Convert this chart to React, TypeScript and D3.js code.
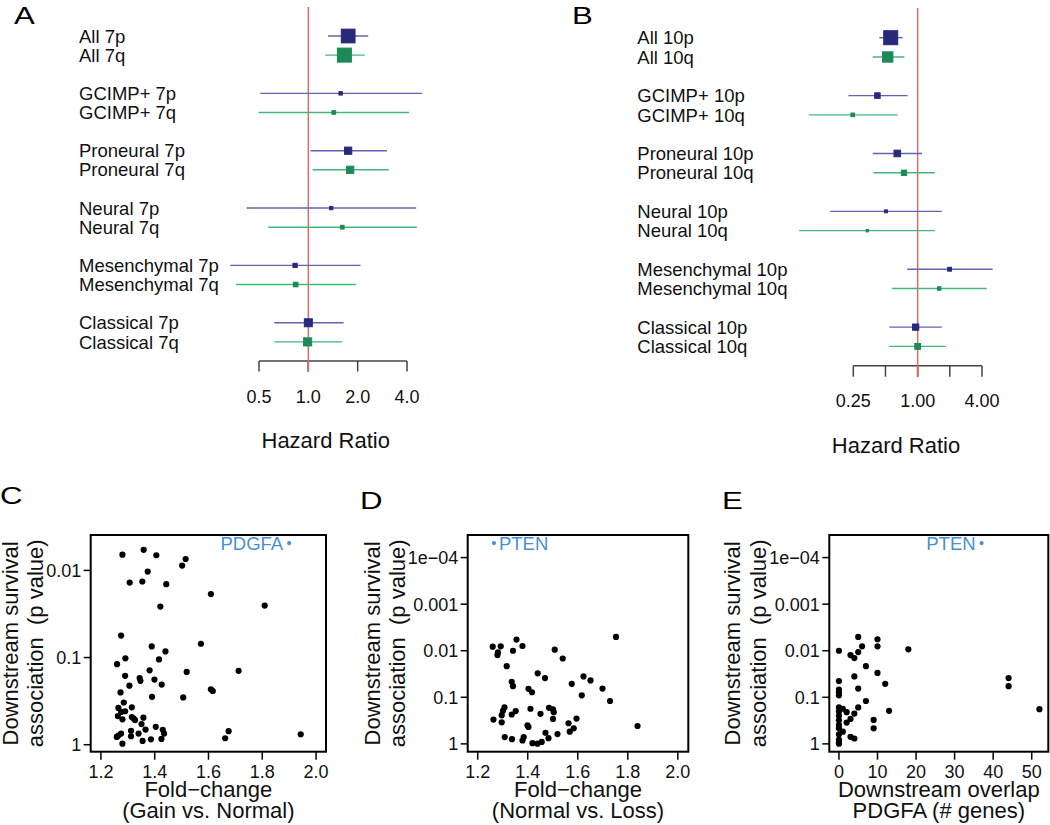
import React from "react";
import * as d3 from "d3";

// ---------- Panel A: forest plot, chromosome 7 ----------
const forestALabels = [
  "All 7p", "All 7q", "GCIMP+ 7p", "GCIMP+ 7q", "Proneural 7p", "Proneural 7q",
  "Neural 7p", "Neural 7q", "Mesenchymal 7p", "Mesenchymal 7q", "Classical 7p", "Classical 7q",
];
const forestAHR = [1.75, 1.66, 1.575, 1.43, 1.75, 1.8, 1.38, 1.61, 0.83, 0.837, 1.0, 0.99];
const forestALower = [1.32, 1.27, 0.509, 0.497, 1.03, 1.06, 0.42, 0.57, 0.334, 0.362, 0.62, 0.62];
const forestAUpper = [2.32, 2.21, 4.95, 4.12, 3.02, 3.09, 4.55, 4.59, 2.08, 1.95, 1.64, 1.61];
const forestATicks = [0.5, 1, 2, 4];
const forestATickLabels = ["0.5", "1.0", "2.0", "4.0"];

// ---------- Panel B: forest plot, chromosome 10 ----------
const forestBLabels = [
  "All 10p", "All 10q", "GCIMP+ 10p", "GCIMP+ 10q", "Proneural 10p", "Proneural 10q",
  "Neural 10p", "Neural 10q", "Mesenchymal 10p", "Mesenchymal 10q", "Classical 10p", "Classical 10q",
];
const forestBHR = [0.56, 0.525, 0.42, 0.247, 0.645, 0.745, 0.505, 0.338, 1.99, 1.59, 0.958, 1.0];
const forestBLower = [0.438, 0.38, 0.225, 0.096, 0.38, 0.385, 0.152, 0.078, 0.8, 0.575, 0.543, 0.543];
const forestBUpper = [0.724, 0.75, 0.806, 0.65, 1.1, 1.45, 1.68, 1.45, 5.03, 4.42, 1.68, 1.84];
const forestBTicks = [0.25, 0.5, 1, 2, 4];
const forestBTickLabels = ["0.25", "", "1.00", "", "4.00"];

// ---------- Panel C: fold-change (gain vs normal) vs p ----------
const scatterCFold = [
  1.28, 1.359, 1.406, 1.502, 1.515, 1.374, 1.307, 1.354, 1.443, 1.609, 1.421, 1.809,
  1.275, 1.389, 1.572, 1.44, 1.291, 1.26, 1.416, 1.381, 1.519, 1.712, 1.29, 1.344, 1.347,
  1.399, 1.306, 1.426, 1.609, 1.616, 1.273, 1.39, 1.506,
  1.285, 1.265, 1.315, 1.275, 1.29, 1.263, 1.28, 1.315, 1.322, 1.327, 1.358, 1.351, 1.366,
  1.265, 1.275, 1.259, 1.312, 1.312, 1.34, 1.355, 1.386, 1.404, 1.43, 1.435, 1.425, 1.28,
  1.662, 1.675, 1.943,
];
const scatterCP = [
  0.0066, 0.0058, 0.0067, 0.0088, 0.0074, 0.0103, 0.0138, 0.0134, 0.0144, 0.0187, 0.026, 0.0253,
  0.056, 0.0745, 0.0694, 0.0851, 0.102, 0.119, 0.105, 0.14, 0.146, 0.142, 0.162, 0.172, 0.185,
  0.179, 0.21, 0.204, 0.231, 0.242, 0.251, 0.282, 0.287,
  0.328, 0.378, 0.372, 0.421, 0.413, 0.469, 0.512, 0.481, 0.503, 0.521, 0.49, 0.58, 0.67,
  0.785, 0.745, 0.815, 0.693, 0.8, 0.745, 0.906, 0.867, 0.623, 0.675, 0.745, 0.859, 0.973,
  0.843, 0.7, 0.759,
];
const highlightCFold = 1.9;
const highlightCP = 0.00485;
const highlightCLabel = "PDGFA";

// ---------- Panel D: fold-change (normal vs loss) vs p ----------
const scatterDFold = [
  1.26, 1.292, 1.281, 1.279, 1.355, 1.379, 1.341, 1.508, 1.54, 1.753, 1.316, 1.44, 1.469,
  1.336, 1.341, 1.576, 1.623, 1.651, 1.699, 1.616, 1.729, 1.403, 1.417, 1.307, 1.301, 1.296,
  1.352, 1.336, 1.263, 1.296, 1.411, 1.451, 1.485, 1.501, 1.504, 1.501, 1.399, 1.403, 1.563,
  1.595, 1.584, 1.568, 1.839, 1.308, 1.337, 1.379, 1.384, 1.419, 1.439, 1.456, 1.471, 1.483, 1.519,
];
const scatterDP = [
  0.00818, 0.00805, 0.0109, 0.0124, 0.00577, 0.00792, 0.01, 0.0095, 0.0147, 0.00505, 0.0215, 0.0306, 0.0387,
  0.0465, 0.0577, 0.0513, 0.0356, 0.0435, 0.0649, 0.0906, 0.12, 0.0659, 0.0779, 0.165, 0.195, 0.242,
  0.198, 0.234, 0.301, 0.344, 0.176, 0.226, 0.168, 0.182, 0.209, 0.291, 0.399, 0.434, 0.361,
  0.286, 0.464, 0.548, 0.413, 0.716, 0.792, 0.847, 0.716, 0.968, 0.99, 0.906, 0.577, 0.753, 0.617,
];
const highlightDFold = 1.265;
const highlightDP = 0.0000487;
const highlightDLabel = "PTEN";

// ---------- Panel E: downstream overlap vs p ----------
const scatterEOverlap = [
  0, 5, 10, 10, 6, 5, 3, 4, 18, 7, 10, 4, 12, 5, 0, 0, 0, 0, 7, 44, 44, 52, 13, 5, 0, 1,
  2, 4, 0, 0, 3, 2, 0, 9, 9, 0, 0, 1, 0, 3, 4, 0, 0, 0,
];
const scatterEP = [
  0.01, 0.00505, 0.00567, 0.00805, 0.00805, 0.0107, 0.0124, 0.0144, 0.00935, 0.0215, 0.03, 0.0356,
  0.0513, 0.0649, 0.0449, 0.068, 0.0778, 0.0906, 0.12, 0.0387, 0.0577, 0.18, 0.195, 0.165, 0.165, 0.176,
  0.209, 0.223, 0.201, 0.25, 0.291, 0.349, 0.311, 0.306, 0.464, 0.393, 0.464, 0.548, 0.627, 0.705,
  0.766, 0.818, 0.951, 0.99,
];
const highlightEOverlap = 37;
const highlightEP = 0.0000487;
const highlightELabel = "PTEN";

const foldTicks = [1.2, 1.4, 1.6, 1.8, 2.0];
const foldTickLabels = ["1.2", "1.4", "1.6", "1.8", "2.0"];
const overlapTicks = [0, 10, 20, 30, 40, 50];
const overlapTickLabels = ["0", "10", "20", "30", "40", "50"];
const pTicksC = [0.01, 0.1, 1];
const pTickLabelsC = ["0.01", "0.1", "1"];
const pTicksDE = [0.0001, 0.001, 0.01, 0.1, 1];
const pTickLabelsDE = ["1e\u221204", "0.001", "0.01", "0.1", "1"];

// ---------- styling ----------
const FONT = "'Liberation Sans', Arial, Helvetica, sans-serif";
const BLUE_BOX = "#27297b";
const BLUE_LINE = "#5f63b2";
const GREEN_BOX = "#1c8a58";
const GREEN_LINE = "#45b67c";
const RED = "#de6b6b";
const HILITE = "#4a8fd6";

type ForestProps = {
  labels: string[];
  hr: number[];
  lo: number[];
  hi: number[];
  ticks: number[];
  tickLabels: string[];
  labelX: number;
  xRange: [number, number];
  yRange: [number, number];
  redTop: number;
  tickLen: number;
  tickLabelY: number;
  titleX: number;
  titleY: number;
};

function Forest(p: ForestProps) {
  const x = d3
    .scaleLog()
    .base(2)
    .domain([p.ticks[0], p.ticks[p.ticks.length - 1]])
    .range(p.xRange);
  const y = d3.scaleLinear().domain([0, 17]).range(p.yRange);
  const rowPos = (i: number) => Math.floor(i / 2) * 3 + (i % 2);
  const widths = p.lo.map((l, i) => Math.log2(p.hi[i] / l));
  const minW = d3.min(widths) as number;
  const axisY = y(17);
  return (
    <g>
      {p.labels.map((lab, i) => (
        <text
          key={"l" + i}
          x={p.labelX}
          y={y(rowPos(i))}
          dy="0.36em"
          fontSize={18.5}
          fill="#111"
        >
          {lab}
        </text>
      ))}
      <line
        x1={x(1)}
        x2={x(1)}
        y1={p.redTop}
        y2={axisY + p.tickLen}
        stroke={RED}
        strokeWidth={1.5}
      />
      {p.labels.map((lab, i) => {
        const isP = lab.endsWith("p");
        const yy = y(rowPos(i));
        const s = (14 * minW) / widths[i];
        return (
          <g key={"m" + i}>
            <line
              x1={x(p.lo[i])}
              x2={x(p.hi[i])}
              y1={yy}
              y2={yy}
              stroke={isP ? BLUE_LINE : GREEN_LINE}
              strokeWidth={1.4}
            />
            <rect
              x={x(p.hr[i]) - s / 2}
              y={yy - s / 2}
              width={s}
              height={s}
              fill={isP ? BLUE_BOX : GREEN_BOX}
              stroke={isP ? BLUE_BOX : GREEN_BOX}
              strokeWidth={1}
            />
          </g>
        );
      })}
      <line
        x1={x(p.ticks[0])}
        x2={x(p.ticks[p.ticks.length - 1])}
        y1={axisY}
        y2={axisY}
        stroke="#444"
        strokeWidth={1.5}
      />
      {p.ticks.map((t, i) => (
        <g key={"t" + i}>
          <line
            x1={x(t)}
            x2={x(t)}
            y1={axisY}
            y2={axisY + p.tickLen}
            stroke="#444"
            strokeWidth={1.5}
          />
          {p.tickLabels[i] && (
            <text x={x(t)} y={p.tickLabelY} textAnchor="middle" fontSize={18} fill="#111">
              {p.tickLabels[i]}
            </text>
          )}
        </g>
      ))}
      <line
        x1={x(1)}
        x2={x(1)}
        y1={axisY - 1}
        y2={axisY + p.tickLen}
        stroke={RED}
        strokeWidth={1.5}
      />
      <text x={p.titleX} y={p.titleY} textAnchor="middle" fontSize={22} fill="#111">
        Hazard Ratio
      </text>
    </g>
  );
}

type ScatterProps = {
  xs: number[];
  ps: number[];
  hx: number;
  hp: number;
  hLabel: string;
  hSide: "left" | "right";
  xDomain: [number, number];
  xTicks: number[];
  xTickLabels: string[];
  yTicks: number[];
  yTickLabels: string[];
  box: { left: number; right: number; top: number; bottom: number };
  xTitle: [string, string];
  yTitleOffsets: [number, number];
};

function Scatter(p: ScatterProps) {
  const { left, right, top, bottom } = p.box;
  const x = d3.scaleLinear().domain(p.xDomain).range([left, right]);
  const allP = p.ps.concat([p.hp]);
  const lmin = Math.log10(d3.min(allP) as number);
  const lmax = Math.log10(d3.max(allP) as number);
  const pad = 0.04 * (lmax - lmin);
  const y = d3
    .scaleLog()
    .domain([Math.pow(10, lmax + pad), Math.pow(10, lmin - pad)])
    .range([bottom, top]);
  const cx = (left + right) / 2;
  const cy = (top + bottom) / 2;
  return (
    <g>
      {p.xs.map((v, i) => (
        <circle key={i} cx={x(v)} cy={y(p.ps[i])} r={3.1} fill="#000" />
      ))}
      <circle cx={x(p.hx)} cy={y(p.hp)} r={2.1} fill={HILITE} />
      <text
        x={p.hSide === "left" ? x(p.hx) - 6 : x(p.hx) + 5}
        y={y(p.hp)}
        dy="0.36em"
        textAnchor={p.hSide === "left" ? "end" : "start"}
        fontSize={18.5}
        fill={HILITE}
      >
        {p.hLabel}
      </text>
      <rect
        x={left}
        y={top}
        width={right - left}
        height={bottom - top}
        fill="none"
        stroke="#000"
        strokeWidth={2}
      />
      {p.xTicks.map((t, i) => (
        <g key={"xt" + i}>
          <line x1={x(t)} x2={x(t)} y1={bottom} y2={bottom + 8} stroke="#000" strokeWidth={1.5} />
          <text x={x(t)} y={bottom + 26.5} textAnchor="middle" fontSize={18} fill="#111">
            {p.xTickLabels[i]}
          </text>
        </g>
      ))}
      {p.yTicks.map((t, i) => (
        <g key={"yt" + i}>
          <line x1={left - 7} x2={left} y1={y(t)} y2={y(t)} stroke="#000" strokeWidth={1.5} />
          <text
            x={left - 9.5}
            y={y(t)}
            dy="0.36em"
            textAnchor="end"
            fontSize={18}
            fill="#111"
          >
            {p.yTickLabels[i]}
          </text>
        </g>
      ))}
      <text x={cx} y={bottom + 45.5} textAnchor="middle" fontSize={22} fill="#111">
        {p.xTitle[0]}
      </text>
      <text x={cx} y={bottom + 65.8} textAnchor="middle" fontSize={22} fill="#111">
        {p.xTitle[1]}
      </text>
      <text
        transform={`translate(${left + p.yTitleOffsets[0]},${cy}) rotate(-90)`}
        textAnchor="middle"
        fontSize={22}
        fill="#111"
      >
        Downstream survival
      </text>
      <text
        transform={`translate(${left + p.yTitleOffsets[1]},${cy}) rotate(-90)`}
        textAnchor="middle"
        fontSize={22}
        fill="#111"
        style={{ whiteSpace: "pre" }}
      >
        {"association  (p value)"}
      </text>
    </g>
  );
}

function PanelLetter({ x, y, t }: { x: number; y: number; t: string }) {
  return (
    <text transform={`translate(${x},${y}) scale(1.3,1)`} fontSize={24} fill="#000">
      {t}
    </text>
  );
}

export default function App() {
  return (
    <svg
      width={1050}
      height={825}
      style={{ position: "absolute", left: 0, top: 0, background: "#fff" }}
      fontFamily={FONT}
    >
      <rect x={0} y={0} width={1050} height={825} fill="#fff" />
      <PanelLetter x={14} y={23.5} t="A" />
      <PanelLetter x={572} y={23.5} t="B" />
      <PanelLetter x={0} y={503.5} t="C" />
      <PanelLetter x={360} y={508.5} t="D" />
      <PanelLetter x={722} y={508.5} t="E" />

      <Forest
        labels={forestALabels}
        hr={forestAHR}
        lo={forestALower}
        hi={forestAUpper}
        ticks={forestATicks}
        tickLabels={forestATickLabels}
        labelX={79}
        xRange={[259, 407]}
        yRange={[36, 361]}
        redTop={7}
        tickLen={10.5}
        tickLabelY={402.5}
        titleX={325.7}
        titleY={448}
      />
      <Forest
        labels={forestBLabels}
        hr={forestBHR}
        lo={forestBLower}
        hi={forestBUpper}
        ticks={forestBTicks}
        tickLabels={forestBTickLabels}
        labelX={637.3}
        xRange={[853.3, 982]}
        yRange={[37.7, 365.7]}
        redTop={8}
        tickLen={11}
        tickLabelY={406.7}
        titleX={896}
        titleY={453}
      />

      <Scatter
        xs={scatterCFold}
        ps={scatterCP}
        hx={highlightCFold}
        hp={highlightCP}
        hLabel={highlightCLabel}
        hSide="left"
        xDomain={[1.162, 2.037]}
        xTicks={foldTicks}
        xTickLabels={foldTickLabels}
        yTicks={pTicksC}
        yTickLabels={pTickLabelsC}
        box={{ left: 90.7, right: 326, top: 535, bottom: 751.7 }}
        xTitle={["Fold\u2212change", "(Gain vs. Normal)"]}
        yTitleOffsets={[-72.4, -47.6]}
      />
      <Scatter
        xs={scatterDFold}
        ps={scatterDP}
        hx={highlightDFold}
        hp={highlightDP}
        hLabel={highlightDLabel}
        hSide="right"
        xDomain={[1.16, 2.042]}
        xTicks={foldTicks}
        xTickLabels={foldTickLabels}
        yTicks={pTicksDE}
        yTickLabels={pTickLabelsDE}
        box={{ left: 467.7, right: 688.3, top: 535, bottom: 751.7 }}
        xTitle={["Fold\u2212change", "(Normal vs. Loss)"]}
        yTitleOffsets={[-87.7, -62.7]}
      />
      <Scatter
        xs={scatterEOverlap}
        ps={scatterEP}
        hx={highlightEOverlap}
        hp={highlightEP}
        hLabel={highlightELabel}
        hSide="left"
        xDomain={[-2.5, 54.3]}
        xTicks={overlapTicks}
        xTickLabels={overlapTickLabels}
        yTicks={pTicksDE}
        yTickLabels={pTickLabelsDE}
        box={{ left: 829.3, right: 1048.3, top: 535, bottom: 751.7 }}
        xTitle={["Downstream overlap", "PDGFA (# genes)"]}
        yTitleOffsets={[-89.3, -63.5]}
      />
    </svg>
  );
}
